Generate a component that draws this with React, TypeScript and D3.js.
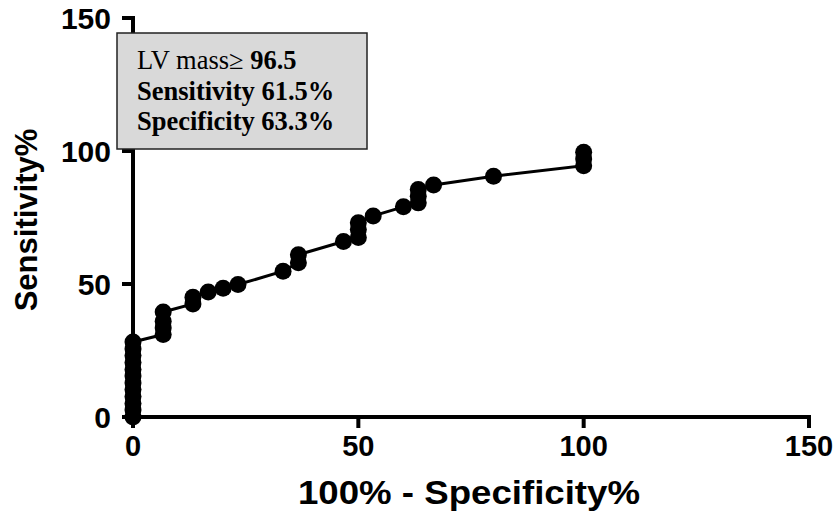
import React from "react";
import * as d3 from "d3";

// 1 - specificity (%) and sensitivity (%)
const fprValues = [
  0, 0, 0, 0, 0, 0, 0, 0, 0, 0, 0, 0,
  6.7, 6.7, 6.7, 6.7,
  13.3, 13.3,
  16.7, 20, 23.3,
  33.3, 36.7, 36.7,
  46.7, 50, 50, 50, 53.3,
  60, 63.3, 63.3, 63.3, 66.7,
  80, 100, 100, 100,
];
const sensValues = [
  0, 2.6, 5.1, 7.7, 10.3, 12.8, 15.4, 17.9, 20.5, 23.1, 25.6, 28.2,
  31, 33.5, 36, 39.5,
  42.5, 45,
  47, 48.4, 49.8,
  54.8, 58, 61,
  66, 67.5, 70.5, 73, 75.6,
  79, 80.5, 83, 85.5, 87.2,
  90.5, 94.5, 97, 99.5,
];
const xTicks = [0, 50, 100, 150];
const yTicks = [0, 50, 100, 150];
const xTitle = "100% - Specificity%";
const yTitle = "Sensitivity%";
const noteLines = ["Sensitivity 61.5%", "Specificity 63.3%"];

export default function App() {
  const W = 839, H = 513;
  const x = d3.scaleLinear().domain([0, 150]).range([133, 809]);
  const y = d3.scaleLinear().domain([0, 150]).range([417, 18]);
  const pts = fprValues.map((f, i) => ({ f, s: sensValues[i] }));
  const line = d3.line<{ f: number; s: number }>().x((d) => x(d.f)).y((d) => y(d.s));
  const sans = "'Liberation Sans', Arial, sans-serif";
  const serif = "'Liberation Serif', 'Times New Roman', serif";
  return (
    <svg width={W} height={H} style={{ position: "absolute", left: 0, top: 0, background: "#fff" }}>
      {/* axes */}
      <line x1={x(0)} x2={x(150) + 2} y1={y(0)} y2={y(0)} stroke="#000" strokeWidth={4} />
      <line x1={x(0)} x2={x(0)} y1={y(0) + 2} y2={y(150) - 2} stroke="#000" strokeWidth={4} />
      {xTicks.map((t) => (
        <g key={"xt" + t}>
          <line x1={x(t)} x2={x(t)} y1={y(0)} y2={y(0) + 11} stroke="#000" strokeWidth={4} />
          <text x={x(t)} y={456} textAnchor="middle" fontFamily={sans} fontWeight="bold" fontSize={29}>
            {t}
          </text>
        </g>
      ))}
      {yTicks.map((t) => (
        <g key={"yt" + t}>
          <line x1={x(0) - 11} x2={x(0)} y1={y(t)} y2={y(t)} stroke="#000" strokeWidth={4} />
          <text x={111} y={y(t) + 11} textAnchor="end" fontFamily={sans} fontWeight="bold" fontSize={30}>
            {t}
          </text>
        </g>
      ))}
      <text
        x={298}
        y={504}
        textLength={342}
        lengthAdjust="spacingAndGlyphs"
        fontFamily={sans}
        fontWeight="bold"
        fontSize={33}
      >
        {xTitle}
      </text>
      <text
        transform={`translate(37,220) rotate(-90)`}
        textAnchor="middle"
        fontFamily={sans}
        fontWeight="bold"
        fontSize={31}
      >
        {yTitle}
      </text>
      {/* curve */}
      <path d={line(pts) || ""} fill="none" stroke="#000" strokeWidth={3} />
      {pts.map((p, i) => (
        <circle key={i} cx={x(p.f)} cy={y(p.s)} r={8.5} fill="#000" />
      ))}
      {/* annotation box */}
      <rect x={117} y={33} width={250} height={116} fill="#d9d9d9" stroke="#222" strokeWidth={1.5} />
      <text x={137} y={69} fontFamily={serif} fontSize={26.5}>
        LV mass<tspan>≥</tspan>
        <tspan fontWeight="bold"> 96.5</tspan>
      </text>
      {noteLines.map((l, i) => (
        <text key={l} x={137} y={100 + i * 30} fontFamily={serif} fontWeight="bold" fontSize={26.5}>
          {l}
        </text>
      ))}
    </svg>
  );
}
